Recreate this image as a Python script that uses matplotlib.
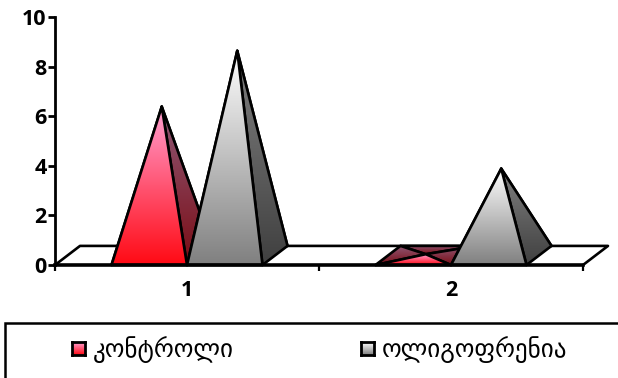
"""Pseudo-3D pyramid chart, two series over two categories."""

import numpy as np
import matplotlib
matplotlib.use("Agg")
import matplotlib.pyplot as plt
from matplotlib.colors import LinearSegmentedColormap
from matplotlib.patches import Polygon, Rectangle

categories = ["1", "2"]
series_names = ["კონტროლი", "ოლიგოფრენია"]
control_values = [6.0, 0.05]
oligo_values = [8.25, 3.5]
y_ticks = [0, 2, 4, 6, 8, 10]

W, H = 618, 378
BAR_W = 0.286
DEPTH_X = 0.0947   # depth of the floor, in category units
DEPTH_Y = 0.77     # depth of the floor, in value units
LW = 1.9

# colours: (top, bottom) of each gradient
control_front = ("#ffa0d2", "#ff0a14")
control_side = ("#8f5a78", "#7a0c14")
oligo_front = ("#ffffff", "#808080")
oligo_side = ("#808080", "#404040")


def gradient_face(ax, points, colors, zorder):
    """Polygon with a vertical gradient, outlined in black."""
    pts = np.array(points)
    cmap = LinearSegmentedColormap.from_list("face", [colors[1], colors[0]])
    grad = np.linspace(1, 0, 128).reshape(-1, 1)
    extent = (pts[:, 0].min(), pts[:, 0].max(), pts[:, 1].min(), pts[:, 1].max())
    im = ax.imshow(grad, cmap=cmap, vmin=0, vmax=1, extent=extent, aspect="auto",
                   zorder=zorder, interpolation="bilinear")
    poly = Polygon(pts, closed=True, facecolor="none", edgecolor="black",
                   linewidth=LW, joinstyle="round", zorder=zorder + 0.1, clip_on=False)
    ax.add_patch(poly)
    im.set_clip_path(poly)


def pyramid(ax, left, value, front, side, zorder):
    right = left + BAR_W
    apex = (left + (BAR_W + DEPTH_X) / 2, DEPTH_Y / 2 + value)
    a, b = (left, 0), (right, 0)
    c, d = (right + DEPTH_X, DEPTH_Y), (left + DEPTH_X, DEPTH_Y)
    gradient_face(ax, [d, c, apex], side, zorder)
    gradient_face(ax, [a, d, apex], side, zorder + 0.2)
    gradient_face(ax, [b, c, apex], side, zorder + 0.4)
    gradient_face(ax, [a, b, apex], front, zorder + 0.6)


fig = plt.figure(figsize=(W / 100, H / 100), dpi=100)
ax = fig.add_axes([55 / W, (H - 265) / H, 528 / W, 248 / H])

# floor
floor_x = [0.5, 0.5 + DEPTH_X, 2.5 + DEPTH_X, 2.5]
floor_y = [0, DEPTH_Y, DEPTH_Y, 0]
ax.plot(floor_x, floor_y, color="black", lw=LW, zorder=1, clip_on=False)

for i in range(len(categories)):
    pos = i + 1
    pyramid(ax, pos - BAR_W, control_values[i], control_front, control_side, 2)
    pyramid(ax, pos, oligo_values[i], oligo_front, oligo_side, 4)

ax.set_xlim(0.5, 2.5)
ax.set_ylim(0, 10)
ax.set_facecolor("none")
for name in ("top", "right"):
    ax.spines[name].set_visible(False)
ax.spines["left"].set_linewidth(2.0)
ax.spines["bottom"].set_linewidth(2.6)
ax.spines["bottom"].set_zorder(8)

ax.set_yticks(y_ticks)
ax.set_xticks([0.5, 1.5, 2.5])
ax.set_xticklabels([])
ax.set_xticks([1, 2], labels=categories, minor=True)
ax.tick_params(axis="x", which="major", length=4, width=1.6)
ax.tick_params(axis="x", which="minor", length=0, pad=11)
ax.tick_params(axis="y", length=5, width=2.0, pad=1)
for label in ax.get_yticklabels() + ax.get_xticklabels(minor=True):
    label.set_fontfamily("Open Sans")
    label.set_fontweight("bold")
    label.set_fontsize(15.5)

# legend box runs off the right and bottom edges, as in the original
fig.add_artist(Rectangle((5 / W, -0.05), 1, (H - 323) / H + 0.05, transform=fig.transFigure,
                         facecolor="none", edgecolor="black", linewidth=1.8))

swatches = [(72, control_front), (361, oligo_front)]
text_x = [93, 382]
for (sx, colors), tx, name in zip(swatches, text_x, series_names):
    sw = fig.add_axes([sx / W, (H - 355) / H, 13 / W, 13 / H])
    cmap = LinearSegmentedColormap.from_list("swatch", [colors[1], colors[0]])
    sw.imshow(np.linspace(1, 0, 32).reshape(-1, 1), cmap=cmap, vmin=0, vmax=1, aspect="auto")
    sw.set_xticks([])
    sw.set_yticks([])
    for spine in sw.spines.values():
        spine.set_linewidth(2.0)
    fig.text(tx / W, (H - 350) / H, name, family="DejaVu Sans", fontsize=18,
             ha="left", va="center", color="black")

fig.savefig("out.png", dpi=100)
